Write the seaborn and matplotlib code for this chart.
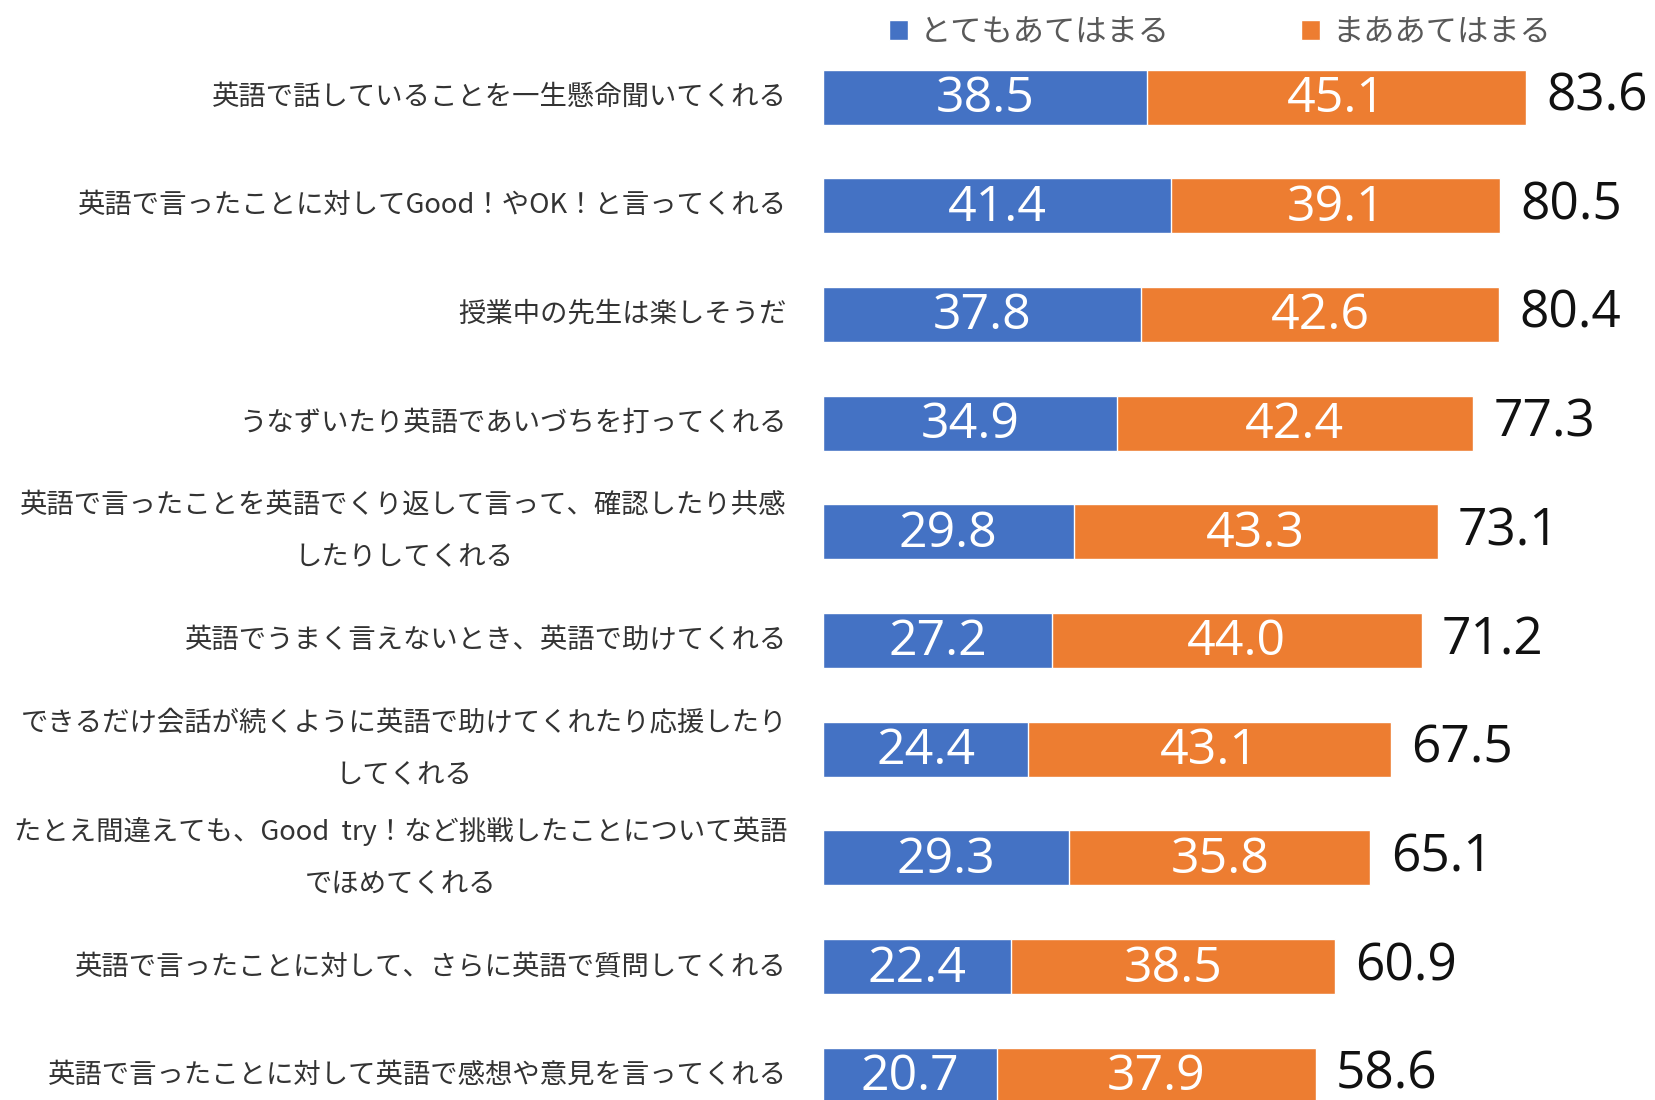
import matplotlib
matplotlib.use("Agg")
import matplotlib.pyplot as plt
import seaborn as sns
import pandas as pd
from matplotlib.patches import Patch

categories = [
    "英語で話していることを一生懸命聞いてくれる",
    "英語で言ったことに対してGood！やOK！と言ってくれる",
    "授業中の先生は楽しそうだ",
    "うなずいたり英語であいづちを打ってくれる",
    "英語で言ったことを英語でくり返して言って、確認したり共感\nしたりしてくれる",
    "英語でうまく言えないとき、英語で助けてくれる",
    "できるだけ会話が続くように英語で助けてくれたり応援したり\nしてくれる",
    "たとえ間違えても、Good  try！など挑戦したことについて英語\nでほめてくれる",
    "英語で言ったことに対して、さらに英語で質問してくれる",
    "英語で言ったことに対して英語で感想や意見を言ってくれる",
]
very = [38.5, 41.4, 37.8, 34.9, 29.8, 27.2, 24.4, 29.3, 22.4, 20.7]
somewhat = [45.1, 39.1, 42.6, 42.4, 43.3, 44.0, 43.1, 35.8, 38.5, 37.9]
totals = [83.6, 80.5, 80.4, 77.3, 73.1, 71.2, 67.5, 65.1, 60.9, 58.6]
series_names = ["とてもあてはまる", "まああてはまる"]

BLUE = "#4472C4"
ORANGE = "#ED7D31"

sns.set_theme(style="white")
plt.rcParams["font.family"] = ["Noto Sans CJK JP", "DejaVu Sans"]

df = pd.DataFrame({"cat": categories, "very": very, "somewhat": somewhat, "total": totals})

W, H = 1655, 1100
fig = plt.figure(figsize=(W / 100, H / 100), dpi=100)
ax_left = 823 / W
ax = fig.add_axes([ax_left, 0.0, 1 - ax_left, 1.0])

px_per_unit = 8.41
row = 108.7
bar_h = 55 / row

sns.barplot(data=df, x="total", y="cat", color=ORANGE, orient="h", width=bar_h,
            saturation=1, ax=ax)
sns.barplot(data=df, x="very", y="cat", color=BLUE, orient="h", width=bar_h,
            saturation=1, ax=ax)

ax.set_xlim(0, (W - 823) / px_per_unit)
ax.set_ylim((H - 97) / row, -97 / row)

num_font = ["Open Sans", "DejaVu Sans"]
for i, (v, s, t) in enumerate(zip(very, somewhat, totals)):
    ax.text(v / 2, i + 0.02, f"{v:.1f}", ha="center", va="center", color="white",
            fontsize=36, family=num_font)
    ax.text(v + s / 2, i + 0.02, f"{s:.1f}", ha="center", va="center", color="white",
            fontsize=36, family=num_font)
    ax.text(t + 2.4, i, f"{t:.1f}", ha="left", va="center", color="#111111",
            fontsize=37, family=num_font)

ax.set_xlabel("")
ax.set_ylabel("")
ax.set_xticks([])
ax.tick_params(axis="y", length=0, pad=26)
ax.set_yticks(range(len(categories)))
ax.set_yticklabels(categories, fontsize=19.7, color="#333333", linespacing=2.2,
                   multialignment="center", va="center")
for lbl in ax.get_yticklabels():
    lbl.set_y(lbl.get_position()[1])
for sp in ax.spines.values():
    sp.set_visible(False)

handles = [Patch(facecolor=BLUE, label=series_names[0]),
           Patch(facecolor=ORANGE, label=series_names[1])]
fig.legend(handles=handles, loc="center", bbox_to_anchor=(1220 / W, 1 - 32 / H),
           ncol=2, frameon=False, fontsize=22.5, labelcolor="#595959",
           handlelength=0.6, handleheight=0.6, handletextpad=0.4, columnspacing=4.2)

fig.savefig("out.png", dpi=100)
